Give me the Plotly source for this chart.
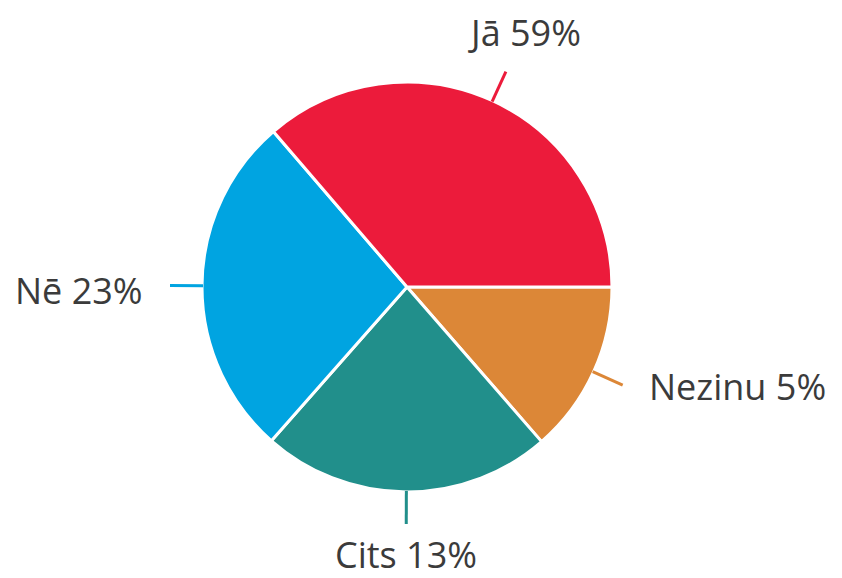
import math
import plotly.graph_objects as go

# Data (natural counter-clockwise order, starting at 3 o'clock)
categories = ["Jā", "Nē", "Cits", "Nezinu"]
slice_values = [36.3, 27.2, 22.9, 13.6]          # slice sizes as drawn
label_texts = ["Jā 59%", "Nē 23%", "Cits 13%", "Nezinu 5%"]
colors = ["#EC1B3B", "#00A4E1", "#218F8B", "#DC8737"]

# The page body has an 8px default margin; work in page pixels and shift.
OFF = 8
W, H = 842 - OFF, 578 - OFF
cx, cy, R = 407 - OFF, 287 - OFF, 205

fig = go.Figure(go.Pie(
    labels=categories[::-1],
    values=slice_values[::-1],
    sort=False,
    direction="clockwise",
    rotation=90,
    marker=dict(colors=colors[::-1], line=dict(color="white", width=3)),
    textinfo="none",
    hoverinfo="label+percent",
    showlegend=False,
    domain=dict(x=[(cx - R) / W, (cx + R) / W], y=[(H - cy - R) / H, (H - cy + R) / H]),
))

total = sum(slice_values)
start = 0.0
shapes, annotations = [], []
for cat, v, txt, col in zip(categories, slice_values, label_texts, colors):
    mid = math.radians(start + v / total * 360 / 2)
    start += v / total * 360
    c, s = math.cos(mid), math.sin(mid)
    x0, y0 = cx + (R - 1) * c, cy - (R - 1) * s
    x1, y1 = cx + (R + 32) * c, cy - (R + 32) * s
    shapes.append(dict(type="line", xref="paper", yref="paper",
                       x0=x0 / W, y0=1 - y0 / H, x1=x1 / W, y1=1 - y1 / H,
                       line=dict(color=col, width=3)))
    if abs(c) > 0.6:
        ax, ay = x1 + (24 if c > 0 else -25), y1 + (1 if c > 0 else 5)
        xa = "left" if c > 0 else "right"
    elif s > 0:
        ax, ay, xa = x1 + 19, y1 - 39, "center"
    else:
        ax, ay, xa = x1, y1 + 31, "center"
    annotations.append(dict(text=txt, x=ax / W, y=1 - ay / H, xref="paper", yref="paper",
                            xanchor=xa, yanchor="middle", showarrow=False,
                            font=dict(family="Open Sans", size=36, color="#3b3b3b")))

fig.update_layout(width=W, height=H, margin=dict(l=0, r=0, t=0, b=0),
                  paper_bgcolor="white", plot_bgcolor="white",
                  shapes=shapes, annotations=annotations)

fig.write_html("out.html")
